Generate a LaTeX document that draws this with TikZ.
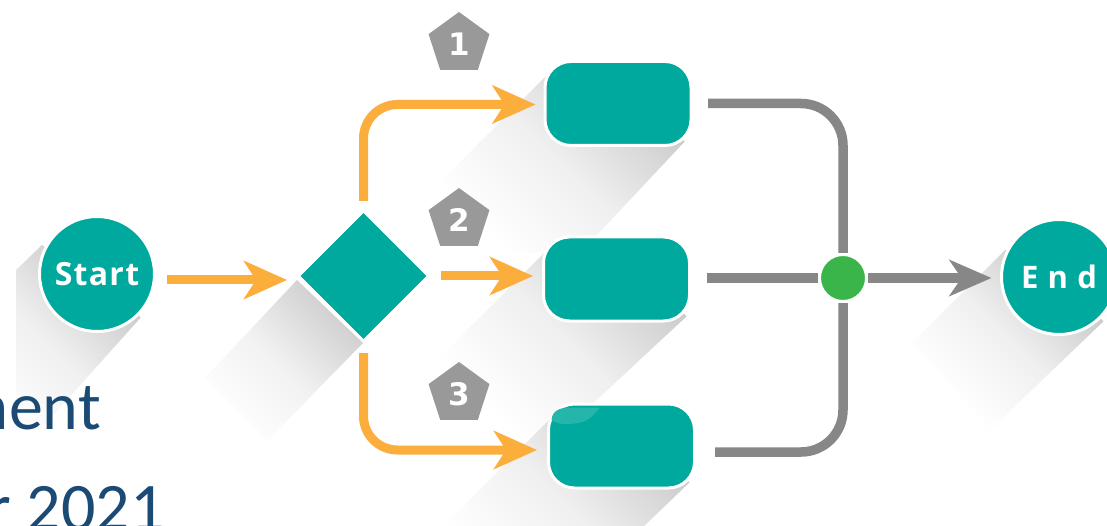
\documentclass[tikz,border=0pt]{standalone}
\usepackage{fontspec}
\usetikzlibrary{shapes.geometric,arrows.meta}
\newfontfamily\captionfont{Carlito}
\newfontfamily\startfont[LetterSpace=4]{Open Sans Bold}
\newfontfamily\endfont[LetterSpace=30]{Open Sans Bold}
\newfontfamily\numfont{DejaVu Sans Bold}
\definecolor{teal}{HTML}{00A99D}
\definecolor{orangeline}{HTML}{FBAE3C}
\definecolor{grayline}{HTML}{878787}
\definecolor{badge}{HTML}{999999}
\definecolor{dotgreen}{HTML}{3AB54A}
\definecolor{navy}{HTML}{1B4B75}
\tikzset{
  flowbox/.style={draw=white,line width=3pt,fill=teal,rounded corners=26pt,minimum width=146pt,minimum height=84pt,inner sep=0pt},
  roundnode/.style={circle,draw=white,line width=3pt,fill=teal,minimum size=115pt,inner sep=0pt,text=white},
  gatenode/.style={diamond,draw=white,line width=2pt,fill=teal,minimum width=130pt,minimum height=130pt,inner sep=0pt,aspect=1},
  dotnode/.style={circle,draw=white,line width=3pt,fill=dotgreen,minimum size=47pt,inner sep=0pt},
  badgenode/.style={regular polygon,regular polygon sides=5,fill=badge,minimum size=64pt,inner sep=0pt,text=white,font=\numfont\fontsize{31}{31}\selectfont},
  orangearrow/.style={draw=orangeline,line width=9pt,rounded corners=34pt,-{Stealth[length=43pt,width=38pt,inset=12pt]}},
  grayline/.style={draw=grayline,line width=9.5pt,rounded corners=42pt},
  grayarrow/.style={draw=grayline,line width=9.5pt,-{Stealth[length=42pt,width=36pt,inset=12pt]}},
  captiontext/.style={text=navy,font=\captionfont\fontsize{68}{68}\selectfont,inner sep=0pt,anchor=base east}
}
\newcommand{\longshadow}[5]{%
  \begin{scope}
    \clip #1;
    \shade[transform canvas={shift={(#2,#3)},rotate=225},left color=black!#5,right color=white,middle color=black!\the\numexpr#5*3/10\relax] (0,-400) rectangle (#4,400);
  \end{scope}}
\begin{document}
\begin{tikzpicture}[x=1pt,y=-1pt]
\useasboundingbox (0,0) rectangle (1107,526);
\fill[white] (0,0) rectangle (1107,526);
% long shadows
\longshadow{(42,245) -- (16,270) -- (16,430) -- (40,430) -- (143,315) -- cycle}{97}{274}{165}{20}
\longshadow{(297,280) -- (205,378) -- (267,441) -- (363,343) -- cycle}{345}{325}{150}{18}
\longshadow{(547,75) -- (369,253) -- (580,253) -- (688,138) -- cycle}{688}{145}{205}{20}
\longshadow{(545,252) -- (385,412) -- (500,490) -- (688,315) -- cycle}{688}{318}{205}{20}
\longshadow{(549,420) -- (440,530) -- (640,530) -- (692,480) -- cycle}{692}{485}{205}{20}
\longshadow{(1005,250) -- (912,343) -- (990,430) -- (1107,318) -- (1107,250) -- cycle}{1059}{277}{160}{20}
% nodes
\node[roundnode] (start) at (97,274) {\startfont\fontsize{32}{32}\selectfont Start};
\node[gatenode] (gate) at (363.5,276) {};
\node[flowbox] (boxa) at (618,103.5) {};
\node[flowbox] (boxb) at (616.5,279) {};
\node[flowbox] (boxc) at (621.5,446) {};
\node[dotnode] (merge) at (843,278) {};
\node[roundnode] (finish) at (1059,277) {\endfont\fontsize{31}{31}\selectfont End};
\fill[white!14!teal] (600,407.5) .. controls (590,420) and (585,424) .. (565,424) .. controls (558,424) and (554,422) .. (551.5,420) .. controls (552,412) and (558,407.5) .. (570,407.5) -- cycle;
% badges
\node[badgenode] (one) at (459,44) {1};
\node[badgenode] (two) at (459,220) {2};
\node[badgenode] (three) at (459,394) {3};
% connectors
\draw[orangearrow] ([shift={(11pt,-6pt)}]start.east) -- ([shift={(-10.5pt,-4pt)}]gate.west);
\draw[orangearrow] ([yshift=9pt]gate.north) |- ([xshift=-8pt,yshift=-1pt]boxa.west);
\draw[orangearrow] ([xshift=11pt]gate.east) -- ([xshift=-9pt,yshift=3pt]boxb.west);
\draw[orangearrow] ([yshift=-11pt]gate.south) |- ([xshift=-10pt,yshift=-4pt]boxc.west);
\draw[grayline] ([xshift=15.5pt]boxa.east) -| (merge.north);
\draw[grayline] ([xshift=16pt,yshift=1pt]boxb.east) -- (merge.west);
\draw[grayline] ([xshift=19pt,yshift=-6pt]boxc.east) -| (merge.south);
\draw[grayarrow] (merge.east) -- ([xshift=-8.5pt,yshift=-1pt]finish.west);
% cropped caption
\node[captiontext] (capa) at (101,429) {ment};
\node[captiontext] (capb) at (165,530) {r 2021};
\end{tikzpicture}
\end{document}
